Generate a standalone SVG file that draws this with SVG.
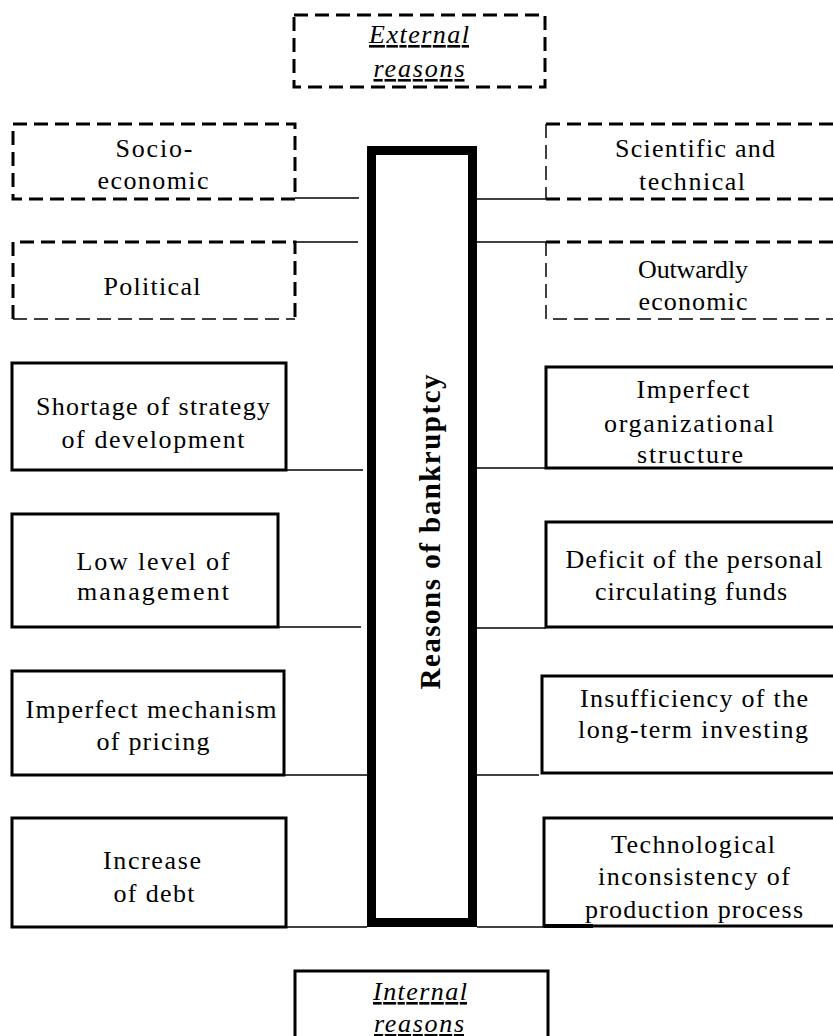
<svg xmlns="http://www.w3.org/2000/svg" width="833" height="1036" viewBox="0 0 833 1036">
<style>
  text { font-family: "Liberation Serif", "Times New Roman", serif; font-size: 26px; fill: #000; text-anchor: middle; }
  .it { font-style: italic; font-size: 26px; text-decoration: underline; }
  .title { font-weight: bold; font-size: 29px; }
  .solid { fill: #fff; stroke: #000; stroke-width: 3; }
  .dash { fill: none; stroke: #000; stroke-width: 3; stroke-dasharray: 14 7; }
  .dthin { fill: none; stroke: #000; stroke-width: 1.5; stroke-dasharray: 14 7; }
  .conn line { stroke: #000; stroke-width: 1.5; }
</style>
<rect width="833" height="1036" fill="#fff"/>

<g id="external">
  <rect class="dash" x="294" y="15" width="251" height="72"/>
  <text class="it" x="419" y="43" textLength="100" lengthAdjust="spacing">External</text>
  <text class="it" x="419" y="77" textLength="91" lengthAdjust="spacing">reasons</text>
</g>

<g id="socio-economic">
  <rect class="dash" x="13" y="124" width="282" height="75"/>
  <text x="154" y="157" textLength="77" lengthAdjust="spacing">Socio-</text>
  <text x="153" y="189" textLength="111" lengthAdjust="spacing">economic</text>
</g>

<g id="political">
  <path class="dash" d="M13,319 V242 H295 V319"/>
  <path class="dthin" d="M13,319 H295"/>
  <text x="152" y="295" textLength="97" lengthAdjust="spacing">Political</text>
</g>

<g id="scientific">
  <path class="dash" d="M546,124 H840 M546,199 H840"/>
  <path class="dthin" d="M546,124 V199"/>
  <text x="695" y="157" textLength="160" lengthAdjust="spacing">Scientific and</text>
  <text x="692" y="190" textLength="106" lengthAdjust="spacing">technical</text>
</g>

<g id="outwardly">
  <path class="dash" d="M546,242 H840"/>
  <path class="dthin" d="M546,242 V319 H840"/>
  <text x="693" y="278" textLength="110" lengthAdjust="spacing">Outwardly</text>
  <text x="693" y="310" textLength="109" lengthAdjust="spacing">economic</text>
</g>

<g id="center">
  <rect x="371.5" y="150.5" width="101" height="772" fill="#fff" stroke="#000" stroke-width="9"/>
  <text class="title" transform="translate(440,532) rotate(-90)" x="0" y="0" textLength="315" lengthAdjust="spacing">Reasons of bankruptcy</text>
</g>

<g id="shortage">
  <rect class="solid" x="12" y="363" width="274" height="107"/>
  <text x="153" y="415" textLength="234" lengthAdjust="spacing">Shortage of strategy</text>
  <text x="153" y="448" textLength="183" lengthAdjust="spacing">of development</text>
</g>

<g id="low-level">
  <rect class="solid" x="12" y="514" width="266" height="113"/>
  <text x="153" y="570" textLength="153" lengthAdjust="spacing">Low level of</text>
  <text x="153" y="600" textLength="152" lengthAdjust="spacing">management</text>
</g>

<g id="pricing">
  <rect class="solid" x="12" y="671" width="272" height="104"/>
  <text x="151" y="718" textLength="251" lengthAdjust="spacing">Imperfect mechanism</text>
  <text x="153" y="750" textLength="113" lengthAdjust="spacing">of pricing</text>
</g>

<g id="debt">
  <rect class="solid" x="12" y="818" width="274" height="109"/>
  <text x="152" y="869" textLength="98" lengthAdjust="spacing">Increase</text>
  <text x="154" y="902" textLength="81" lengthAdjust="spacing">of debt</text>
</g>

<g id="organizational">
  <rect class="solid" x="546" y="367" width="300" height="101"/>
  <text x="693" y="398" textLength="113" lengthAdjust="spacing">Imperfect</text>
  <text x="689" y="432" textLength="170" lengthAdjust="spacing">organizational</text>
  <text x="690" y="463" textLength="106" lengthAdjust="spacing">structure</text>
</g>

<g id="deficit">
  <rect class="solid" x="546" y="522" width="300" height="105"/>
  <text x="694" y="568" textLength="257" lengthAdjust="spacing">Deficit of the personal</text>
  <text x="691" y="600" textLength="192" lengthAdjust="spacing">circulating funds</text>
</g>

<g id="insufficiency">
  <rect class="solid" x="542" y="676" width="304" height="97"/>
  <text x="694" y="707" textLength="228" lengthAdjust="spacing">Insufficiency of the</text>
  <text x="693" y="738" textLength="230" lengthAdjust="spacing">long-term investing</text>
</g>

<g id="technological">
  <rect class="solid" x="544" y="818" width="302" height="108"/>
  <path d="M544,926 H593" stroke="#000" stroke-width="4"/>
  <text x="693" y="853" textLength="164" lengthAdjust="spacing">Technological</text>
  <text x="694" y="885" textLength="192" lengthAdjust="spacing">inconsistency of</text>
  <text x="694" y="918" textLength="218" lengthAdjust="spacing">production process</text>
</g>

<g id="internal">
  <rect class="solid" x="295" y="971" width="253" height="80"/>
  <text class="it" x="420" y="1000" textLength="94" lengthAdjust="spacing">Internal</text>
  <text class="it" x="419" y="1032" textLength="90" lengthAdjust="spacing">reasons</text>
</g>

<g id="connectors" class="conn">
  <line x1="295" y1="198" x2="359" y2="198"/>
  <line x1="295" y1="242" x2="358" y2="242"/>
  <line x1="286" y1="470" x2="363" y2="470"/>
  <line x1="278" y1="627" x2="361" y2="627"/>
  <line x1="284" y1="775" x2="367" y2="775"/>
  <line x1="286" y1="927" x2="367" y2="927"/>
  <line x1="477" y1="199" x2="546" y2="199"/>
  <line x1="477" y1="242" x2="546" y2="242"/>
  <line x1="477" y1="468" x2="546" y2="468"/>
  <line x1="477" y1="628" x2="546" y2="628"/>
  <line x1="477" y1="775" x2="539" y2="775"/>
  <line x1="477" y1="927" x2="544" y2="927"/>
</g>
</svg>
